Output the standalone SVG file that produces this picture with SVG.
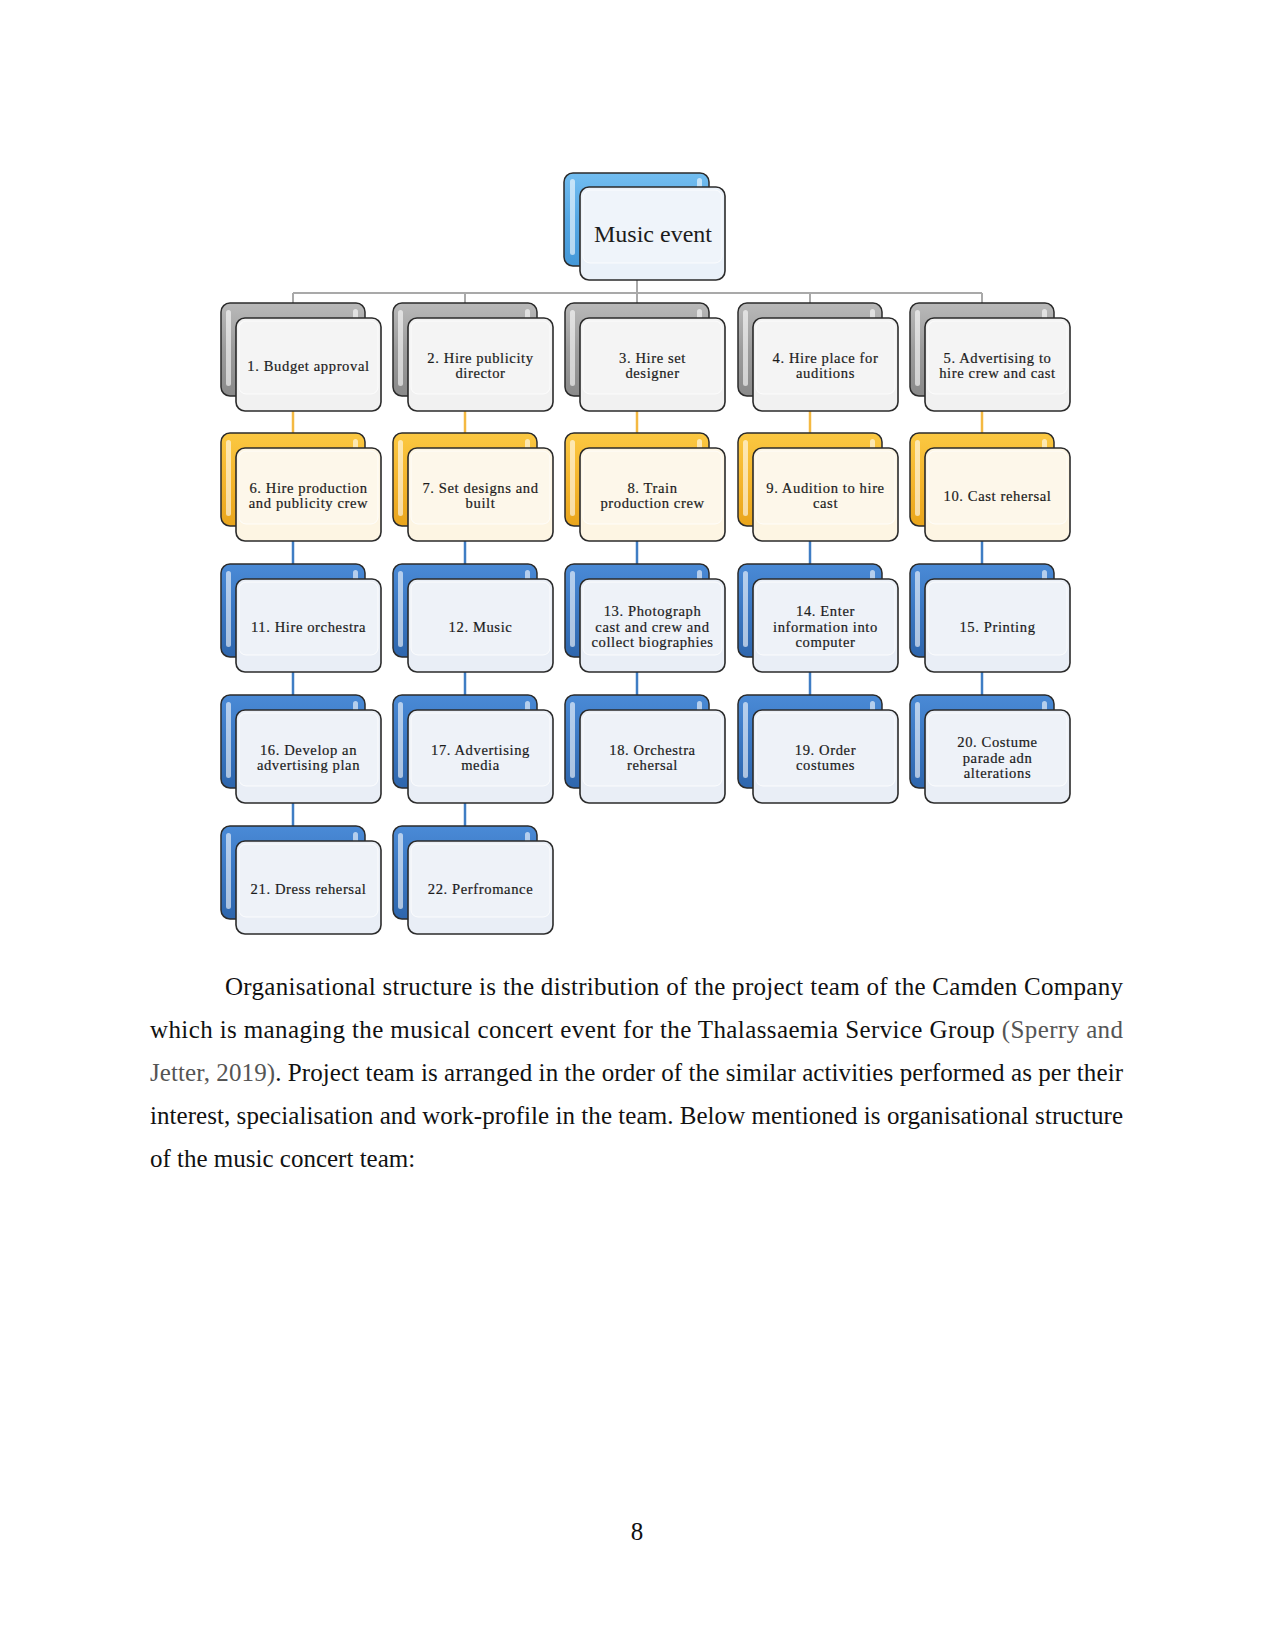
<svg xmlns="http://www.w3.org/2000/svg" xmlns:xlink="http://www.w3.org/1999/xlink" width="1275" height="1651" viewBox="0 0 1275 1651">
<style>
.back{stroke:#2b2b2b;stroke-width:1.5}
.bg{fill:url(#gGray)}
.bo{fill:url(#gOrange)}
.bb{fill:url(#gBlue)}
.br{fill:url(#gRoot)}
.hl{fill:#ffffff;fill-opacity:0.6}
.front{stroke:#2b2b2b;stroke-width:1.6}
.fg{fill:#f1f1f1}
.fo{fill:#fdf5e3}
.fb{fill:#e9eef6}
.fr{fill:#eaf1f9}
.glass{fill:#ffffff;fill-opacity:0.25;stroke:#ffffff;stroke-opacity:0.8;stroke-width:1}
.lbl{font-family:"Liberation Serif","Times New Roman",serif;font-size:14.6px;letter-spacing:0.6px;fill:#1c1c1c;stroke:#1c1c1c;stroke-width:0.2;text-anchor:middle}
.root{font-family:"Liberation Serif","Times New Roman",serif;font-size:24px;fill:#1c1c1c;text-anchor:middle}
.body{font-family:"Liberation Serif","Times New Roman",serif;font-size:25px;fill:#111}
.cg{stroke:#a9a9a9;stroke-width:2;fill:none}
.co{stroke:#f4b942;stroke-width:2.5;fill:none}
.cb{stroke:#3f7dc4;stroke-width:2.5;fill:none}
</style>
<defs>
<linearGradient id="gGray" x1="0" y1="0" x2="0" y2="1">
<stop offset="0" stop-color="#b9b9b9"/><stop offset="0.5" stop-color="#9c9c9c"/><stop offset="1" stop-color="#8a8a8a"/>
</linearGradient>
<linearGradient id="gOrange" x1="0" y1="0" x2="0" y2="1">
<stop offset="0" stop-color="#fbc842"/><stop offset="0.5" stop-color="#f5b62d"/><stop offset="1" stop-color="#e9a51c"/>
</linearGradient>
<linearGradient id="gBlue" x1="0" y1="0" x2="0" y2="1">
<stop offset="0" stop-color="#4a8ad6"/><stop offset="0.5" stop-color="#3a77c2"/><stop offset="1" stop-color="#2e66ad"/>
</linearGradient>
<linearGradient id="gRoot" x1="0" y1="0" x2="0" y2="1">
<stop offset="0" stop-color="#72bdf0"/><stop offset="0.5" stop-color="#54a7e4"/><stop offset="1" stop-color="#4498d8"/>
</linearGradient>
<g id="deco">
<rect class="hl" x="-10" y="-8" width="5" height="76" rx="2.5"/>
<rect class="hl" x="117" y="-9" width="5" height="12" rx="2.5"/>
</g>
<rect id="fr" x="0" y="0" width="145" height="93" rx="9"/>
<rect id="gl" class="glass" x="3" y="3" width="139" height="73" rx="7"/>
</defs>

<g id="connectors">
<line class="cg" x1="637" y1="280" x2="637" y2="293"/>
<line class="cg" x1="293" y1="293" x2="982" y2="293"/>
<line class="cg" x1="293" y1="293" x2="293" y2="303"/>
<line class="cg" x1="465" y1="293" x2="465" y2="303"/>
<line class="cg" x1="637" y1="293" x2="637" y2="303"/>
<line class="cg" x1="810" y1="293" x2="810" y2="303"/>
<line class="cg" x1="982" y1="293" x2="982" y2="303"/>
<line class="co" x1="293" y1="411" x2="293" y2="434"/>
<line class="co" x1="465" y1="411" x2="465" y2="434"/>
<line class="co" x1="637" y1="411" x2="637" y2="434"/>
<line class="co" x1="810" y1="411" x2="810" y2="434"/>
<line class="co" x1="982" y1="411" x2="982" y2="434"/>
<line class="cb" x1="293" y1="541" x2="293" y2="565"/>
<line class="cb" x1="465" y1="541" x2="465" y2="565"/>
<line class="cb" x1="637" y1="541" x2="637" y2="565"/>
<line class="cb" x1="810" y1="541" x2="810" y2="565"/>
<line class="cb" x1="982" y1="541" x2="982" y2="565"/>
<line class="cb" x1="293" y1="672" x2="293" y2="696"/>
<line class="cb" x1="465" y1="672" x2="465" y2="696"/>
<line class="cb" x1="637" y1="672" x2="637" y2="696"/>
<line class="cb" x1="810" y1="672" x2="810" y2="696"/>
<line class="cb" x1="982" y1="672" x2="982" y2="696"/>
<line class="cb" x1="293" y1="803" x2="293" y2="827"/>
<line class="cb" x1="465" y1="803" x2="465" y2="827"/>
</g>

<g id="root" transform="translate(580,187)">
<rect class="back br" x="-16" y="-14" width="145" height="93" rx="9"/>
<use href="#deco"/>
<use href="#fr" class="front fr"/>
<use href="#gl"/>
<text class="root" x="73" y="55">Music event</text>
</g>

<!-- Row 1 (gray) -->
<g id="n1" transform="translate(236,318)">
<rect class="back bg" x="-15" y="-15" width="144" height="93" rx="9"/><use href="#deco"/>
<use href="#fr" class="front fg"/><use href="#gl"/>
<text class="lbl" x="72.5" y="53">1. Budget approval</text>
</g>
<g id="n2" transform="translate(408,318)">
<rect class="back bg" x="-15" y="-15" width="144" height="93" rx="9"/><use href="#deco"/>
<use href="#fr" class="front fg"/><use href="#gl"/>
<text class="lbl" x="72.5" y="45">2. Hire publicity</text>
<text class="lbl" x="72.5" y="60">director</text>
</g>
<g id="n3" transform="translate(580,318)">
<rect class="back bg" x="-15" y="-15" width="144" height="93" rx="9"/><use href="#deco"/>
<use href="#fr" class="front fg"/><use href="#gl"/>
<text class="lbl" x="72.5" y="45">3. Hire set</text>
<text class="lbl" x="72.5" y="60">designer</text>
</g>
<g id="n4" transform="translate(753,318)">
<rect class="back bg" x="-15" y="-15" width="144" height="93" rx="9"/><use href="#deco"/>
<use href="#fr" class="front fg"/><use href="#gl"/>
<text class="lbl" x="72.5" y="45">4. Hire place for</text>
<text class="lbl" x="72.5" y="60">auditions</text>
</g>
<g id="n5" transform="translate(925,318)">
<rect class="back bg" x="-15" y="-15" width="144" height="93" rx="9"/><use href="#deco"/>
<use href="#fr" class="front fg"/><use href="#gl"/>
<text class="lbl" x="72.5" y="45">5. Advertising to</text>
<text class="lbl" x="72.5" y="60">hire crew and cast</text>
</g>

<!-- Row 2 (orange) -->
<g id="n6" transform="translate(236,448)">
<rect class="back bo" x="-15" y="-15" width="144" height="93" rx="9"/><use href="#deco"/>
<use href="#fr" class="front fo"/><use href="#gl"/>
<text class="lbl" x="72.5" y="45">6. Hire production</text>
<text class="lbl" x="72.5" y="60">and publicity crew</text>
</g>
<g id="n7" transform="translate(408,448)">
<rect class="back bo" x="-15" y="-15" width="144" height="93" rx="9"/><use href="#deco"/>
<use href="#fr" class="front fo"/><use href="#gl"/>
<text class="lbl" x="72.5" y="45">7. Set designs and</text>
<text class="lbl" x="72.5" y="60">built</text>
</g>
<g id="n8" transform="translate(580,448)">
<rect class="back bo" x="-15" y="-15" width="144" height="93" rx="9"/><use href="#deco"/>
<use href="#fr" class="front fo"/><use href="#gl"/>
<text class="lbl" x="72.5" y="45">8. Train</text>
<text class="lbl" x="72.5" y="60">production crew</text>
</g>
<g id="n9" transform="translate(753,448)">
<rect class="back bo" x="-15" y="-15" width="144" height="93" rx="9"/><use href="#deco"/>
<use href="#fr" class="front fo"/><use href="#gl"/>
<text class="lbl" x="72.5" y="45">9. Audition to hire</text>
<text class="lbl" x="72.5" y="60">cast</text>
</g>
<g id="n10" transform="translate(925,448)">
<rect class="back bo" x="-15" y="-15" width="144" height="93" rx="9"/><use href="#deco"/>
<use href="#fr" class="front fo"/><use href="#gl"/>
<text class="lbl" x="72.5" y="53">10. Cast rehersal</text>
</g>

<!-- Row 3 (blue) -->
<g id="n11" transform="translate(236,579)">
<rect class="back bb" x="-15" y="-15" width="144" height="93" rx="9"/><use href="#deco"/>
<use href="#fr" class="front fb"/><use href="#gl"/>
<text class="lbl" x="72.5" y="53">11. Hire orchestra</text>
</g>
<g id="n12" transform="translate(408,579)">
<rect class="back bb" x="-15" y="-15" width="144" height="93" rx="9"/><use href="#deco"/>
<use href="#fr" class="front fb"/><use href="#gl"/>
<text class="lbl" x="72.5" y="53">12. Music</text>
</g>
<g id="n13" transform="translate(580,579)">
<rect class="back bb" x="-15" y="-15" width="144" height="93" rx="9"/><use href="#deco"/>
<use href="#fr" class="front fb"/><use href="#gl"/>
<text class="lbl" x="72.5" y="37">13. Photograph</text>
<text class="lbl" x="72.5" y="52.5">cast and crew and</text>
<text class="lbl" x="72.5" y="68">collect biographies</text>
</g>
<g id="n14" transform="translate(753,579)">
<rect class="back bb" x="-15" y="-15" width="144" height="93" rx="9"/><use href="#deco"/>
<use href="#fr" class="front fb"/><use href="#gl"/>
<text class="lbl" x="72.5" y="37">14. Enter</text>
<text class="lbl" x="72.5" y="52.5">information into</text>
<text class="lbl" x="72.5" y="68">computer</text>
</g>
<g id="n15" transform="translate(925,579)">
<rect class="back bb" x="-15" y="-15" width="144" height="93" rx="9"/><use href="#deco"/>
<use href="#fr" class="front fb"/><use href="#gl"/>
<text class="lbl" x="72.5" y="53">15. Printing</text>
</g>

<!-- Row 4 (blue) -->
<g id="n16" transform="translate(236,710)">
<rect class="back bb" x="-15" y="-15" width="144" height="93" rx="9"/><use href="#deco"/>
<use href="#fr" class="front fb"/><use href="#gl"/>
<text class="lbl" x="72.5" y="45">16. Develop an</text>
<text class="lbl" x="72.5" y="60">advertising plan</text>
</g>
<g id="n17" transform="translate(408,710)">
<rect class="back bb" x="-15" y="-15" width="144" height="93" rx="9"/><use href="#deco"/>
<use href="#fr" class="front fb"/><use href="#gl"/>
<text class="lbl" x="72.5" y="45">17. Advertising</text>
<text class="lbl" x="72.5" y="60">media</text>
</g>
<g id="n18" transform="translate(580,710)">
<rect class="back bb" x="-15" y="-15" width="144" height="93" rx="9"/><use href="#deco"/>
<use href="#fr" class="front fb"/><use href="#gl"/>
<text class="lbl" x="72.5" y="45">18. Orchestra</text>
<text class="lbl" x="72.5" y="60">rehersal</text>
</g>
<g id="n19" transform="translate(753,710)">
<rect class="back bb" x="-15" y="-15" width="144" height="93" rx="9"/><use href="#deco"/>
<use href="#fr" class="front fb"/><use href="#gl"/>
<text class="lbl" x="72.5" y="45">19. Order</text>
<text class="lbl" x="72.5" y="60">costumes</text>
</g>
<g id="n20" transform="translate(925,710)">
<rect class="back bb" x="-15" y="-15" width="144" height="93" rx="9"/><use href="#deco"/>
<use href="#fr" class="front fb"/><use href="#gl"/>
<text class="lbl" x="72.5" y="37">20. Costume</text>
<text class="lbl" x="72.5" y="52.5">parade adn</text>
<text class="lbl" x="72.5" y="68">alterations</text>
</g>

<!-- Row 5 (blue) -->
<g id="n21" transform="translate(236,841)">
<rect class="back bb" x="-15" y="-15" width="144" height="93" rx="9"/><use href="#deco"/>
<use href="#fr" class="front fb"/><use href="#gl"/>
<text class="lbl" x="72.5" y="53">21. Dress rehersal</text>
</g>
<g id="n22" transform="translate(408,841)">
<rect class="back bb" x="-15" y="-15" width="144" height="93" rx="9"/><use href="#deco"/>
<use href="#fr" class="front fb"/><use href="#gl"/>
<text class="lbl" x="72.5" y="53">22. Perfromance</text>
</g>

<g id="paragraph">
<text class="body" x="225" y="995" textLength="898" lengthAdjust="spacing">Organisational structure is the distribution of the project team of the Camden Company</text>
<text class="body" x="150" y="1038" textLength="973" lengthAdjust="spacing">which is managing the musical concert event for the Thalassaemia Service Group <tspan fill="#555">(Sperry and</tspan></text>
<text class="body" x="150" y="1081" textLength="973" lengthAdjust="spacing"><tspan fill="#555">Jetter, 2019)</tspan>. Project team is arranged in the order of the similar activities performed as per their</text>
<text class="body" x="150" y="1124" textLength="973" lengthAdjust="spacing">interest, specialisation and work-profile in the team. Below mentioned is organisational structure</text>
<text class="body" x="150" y="1167">of the music concert team:</text>
</g>
<text class="body" x="637" y="1540" text-anchor="middle">8</text>
</svg>
